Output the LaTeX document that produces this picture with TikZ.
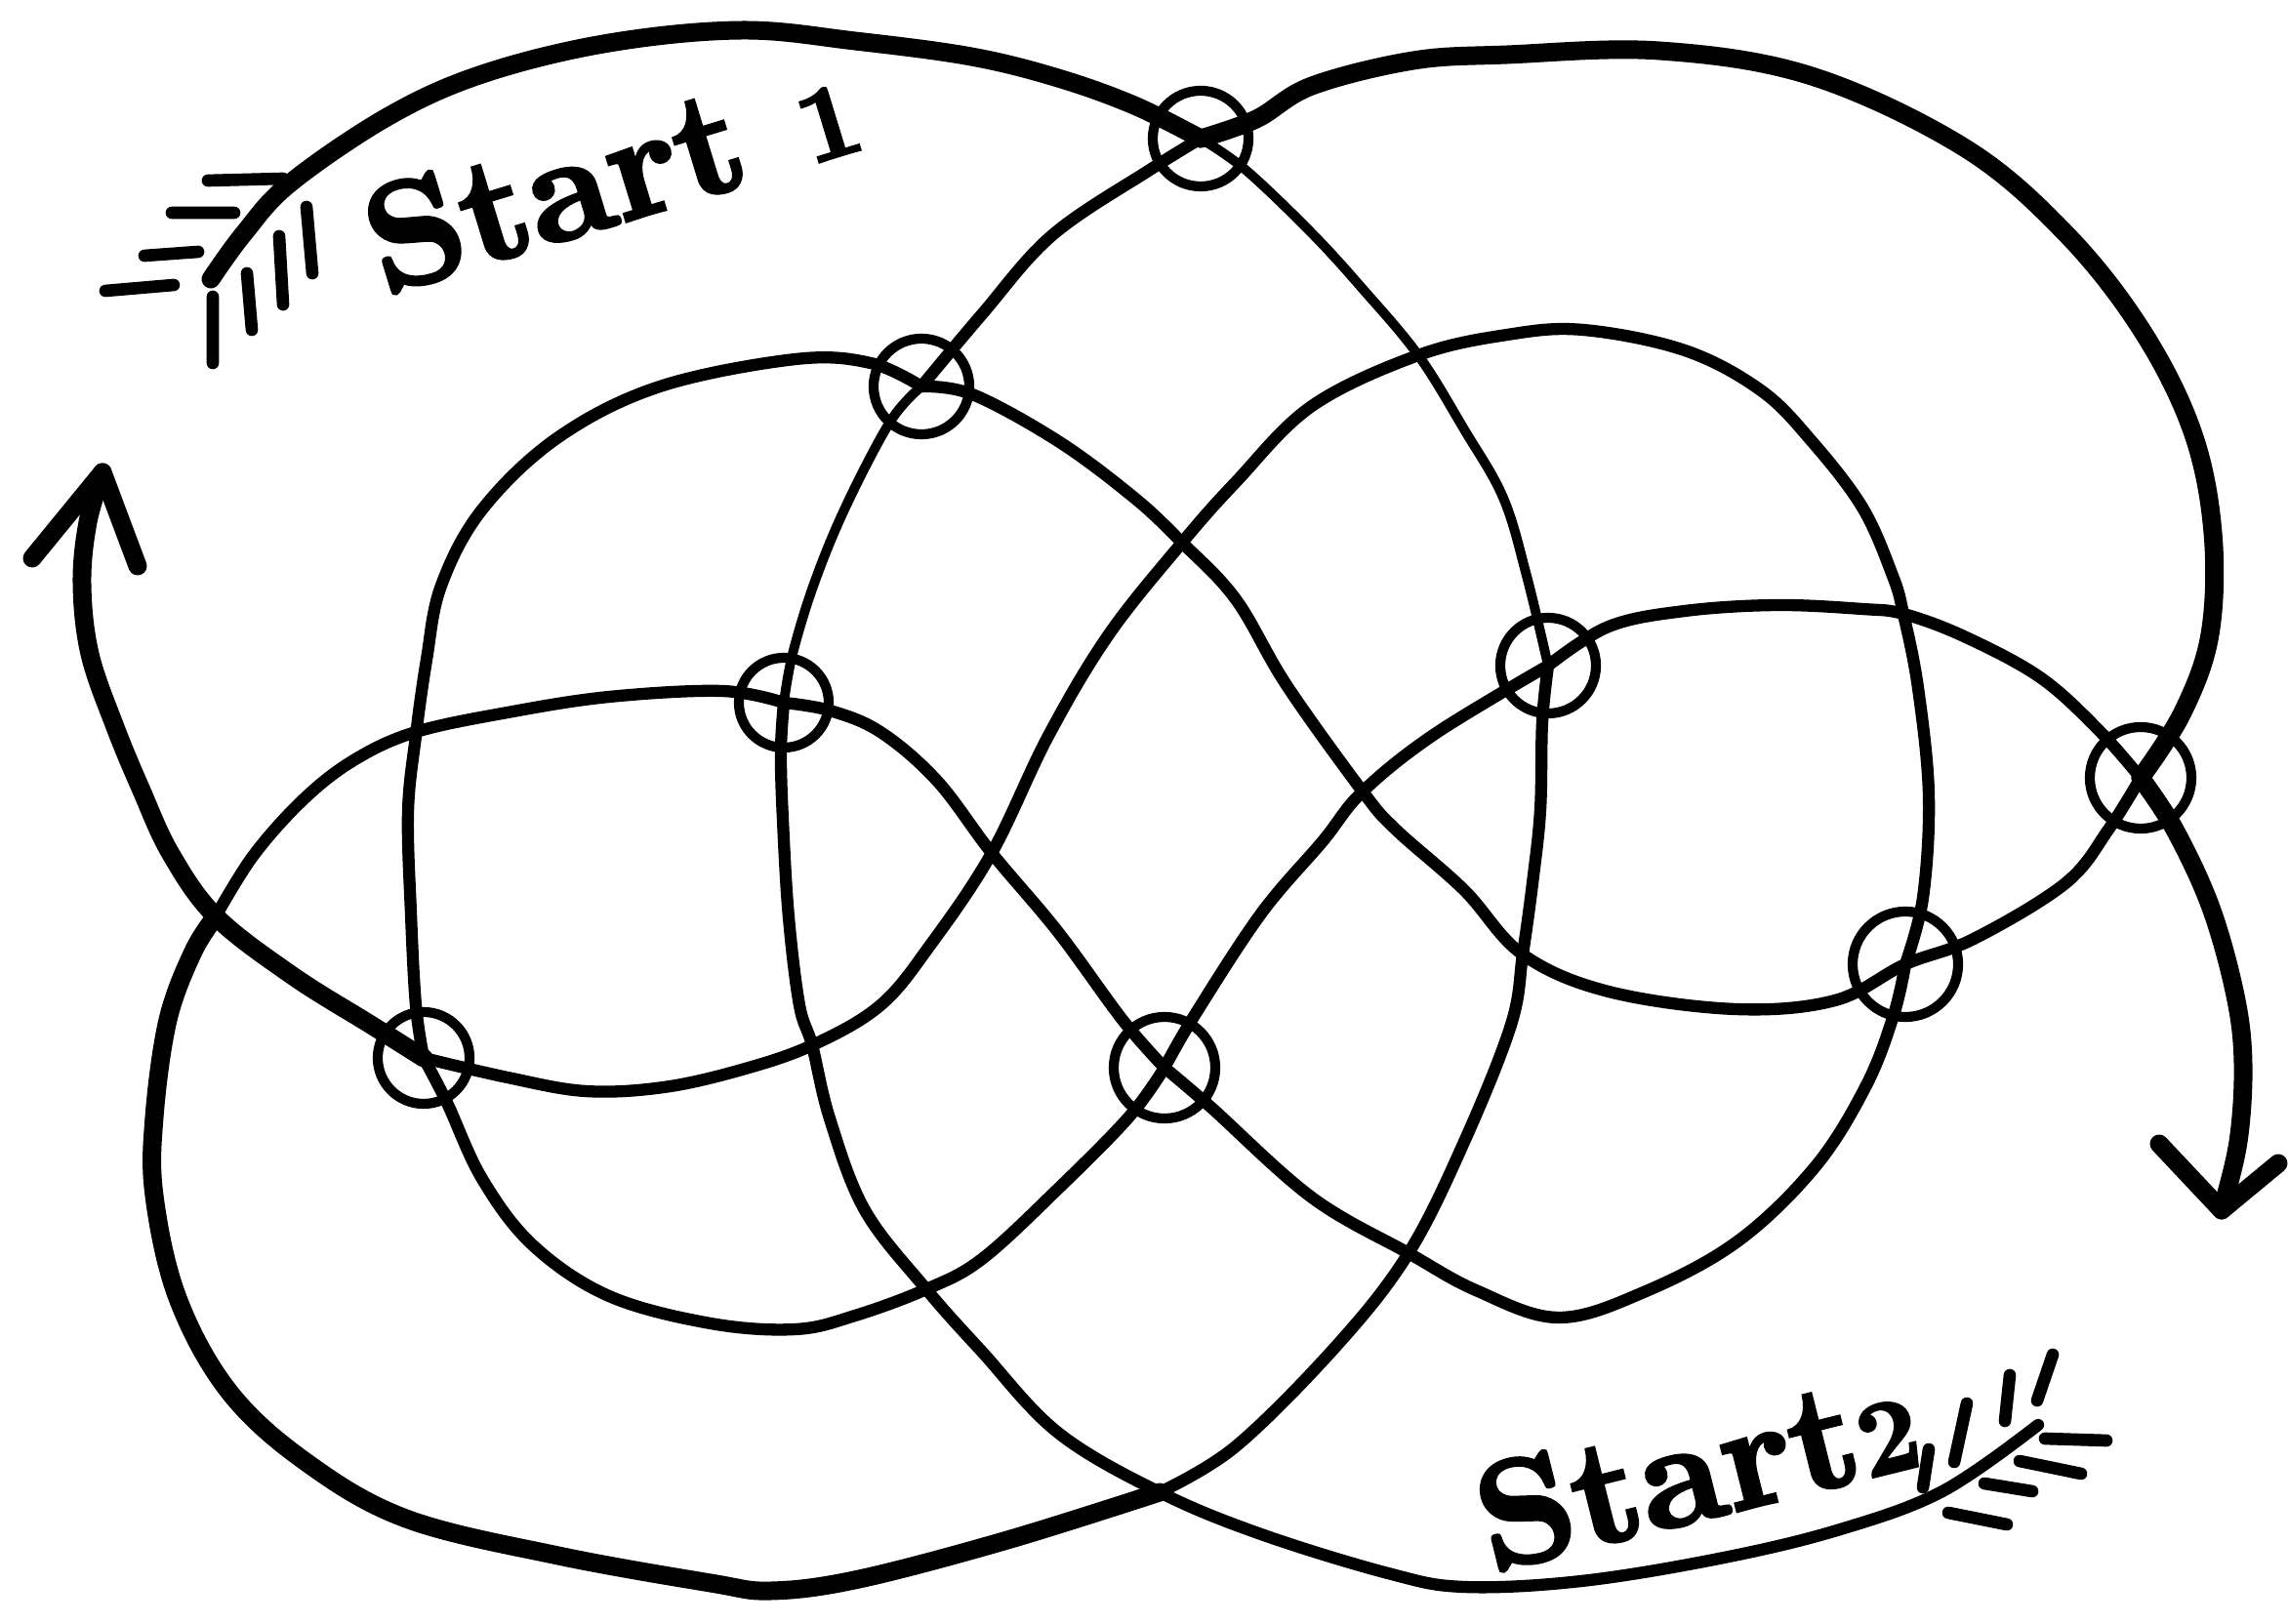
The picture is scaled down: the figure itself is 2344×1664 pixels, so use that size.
\documentclass[tikz,border=0pt]{standalone}
\usepackage{fontspec}
\usepackage{tikz}
\newfontfamily\startfont[Extension=.otf, FakeBold=2.5]{lmroman10-bold}
\newcommand\smalldigit[1]{{\fontsize{31}{31}\selectfont #1}}

\tikzset{
  cord/.style={line width=3.5pt, line cap=round, line join=round},
  thickcord/.style={cord, line width=5.4pt},
  thincord/.style={cord, line width=2.8pt},
  ring/.style={circle, draw, line width=2.9pt, minimum size=0.98cm, inner sep=0pt},
  fray/.style={line width=3.6pt, line cap=round},
  starttext/.style={font=\fontsize{44}{44}\selectfont\startfont, inner sep=0pt}
}

\begin{document}
\begin{tikzpicture}[x=0.01cm, y=-0.01cm]
    \useasboundingbox (0,0) rectangle (2344,1664);

    \node[ring] (c1) at (1230,142) {};
    \node[ring] (c2) at (944,396) {};
    \node[ring, minimum size=0.92cm] (c3) at (803,720) {};
    \node[ring] (c4) at (1586,682) {};
    \node[ring, minimum size=1.04cm] (c5) at (2193,797) {};
    \node[ring, minimum size=1.08cm] (c6) at (1952,988) {};
    \node[ring, minimum size=0.94cm] (c7) at (434,1084) {};
    \node[ring, minimum size=1.04cm] (c8) at (1193,1094) {};

    \coordinate (ua) at (1453,364);
    \coordinate (ub) at (1211,556);
    \coordinate (uc) at (1950,629);
    \coordinate (ud) at (1396,811);
    \coordinate (ue) at (221,939);
    \coordinate (uf) at (832,1071);
    \coordinate (ug) at (949,1321);
    \coordinate (uh) at (1188,1529);
    \coordinate (ui) at (1016,874);
    \coordinate (uj) at (1443,1284);
    \coordinate (uk) at (1560,978);
    \coordinate (end1) at (216,286);
    \coordinate (end2) at (2088,1460);
    \coordinate (tipL) at (105,484);
    \coordinate (tipR) at (2276,1240);

    % cord from Start 1
    \draw[thickcord] plot[smooth, tension=0.6] coordinates {(end1) (250,239) (298,187) (400,118) (497,75) (624,44) (760,31) (876,42) (995,58) (1084,80) (1162,108) (c1.center)};
    \draw[thincord] plot[smooth, tension=0.6] coordinates {(c1.center) (1276,174) (1344,239) (1396,296) (ua) (1500,440) (1540,510) (1564,590) (c4.center)};
    \draw[cord] plot[smooth, tension=0.6] coordinates {(c4.center) (1580,740) (1578,830) (1570,905) (uk) (1548,1050) (1500,1170) (uj) (1370,1378) (1266,1482) (uh)};
    \draw[thickcord] plot[smooth, tension=0.6] coordinates {(uh) (1032,1578) (880,1618) (790,1630) (728,1622) (572,1594) (416,1556) (312,1497) (234,1425) (182,1330) (158,1225) (158,1145) (172,1045) (198,975) (ue)};
    \draw[cord] plot[smooth, tension=0.6] coordinates {(ue) (260,876) (312,818) (364,778) (426,750) (520,730) (624,714) (740,708) (c3.center)};
    \draw[cord] plot[smooth, tension=0.6] coordinates {(c3.center) (850,728) (902,750) (960,800) (ui) (1084,955) (1150,1045) (c8.center)};
    \draw[cord] plot[smooth, tension=0.6] coordinates {(c8.center) (1240,1134) (1344,1227) (uj) (1512,1322) (1596,1350) (1684,1324) (1780,1272) (1860,1195) (1912,1112) (1940,1040) (c6.center)};
    \draw[cord] plot[smooth, tension=0.6] coordinates {(c6.center) (1970,920) (1976,815) (1965,705) (uc) (1939,590) (1908,520) (1856,452) (1804,400) (1726,359) (1622,338) (1544,343) (ua) (1344,416) (1266,494) (ub) (1136,650) (1074,754) (ui) (954,967) (902,1030) (uf) (760,1096) (680,1114) (600,1118) (520,1104) (c7.center)};
    \draw[thickcord] plot[smooth, tension=0.6] coordinates {(c7.center) (380,1050) (300,1000) (ue) (175,875) (145,810) (118,745) (92,670) (84,598) (90,535) (tipL)};
    \draw[thickcord] (33,572) -- (tipL) -- (141,580);

    % cord from Start2
    \draw[cord] plot[smooth, tension=0.6] coordinates {(end2) (1990,1528) (1882,1568) (1761,1597) (1620,1620) (1500,1626) (1422,1612) (1292,1572) (uh) (1084,1468) (1006,1385) (ug) (886,1240) (850,1146) (uf) (819,1030) (808,940) (802,840) (800,770) (c3.center)};
    \draw[thincord] plot[smooth, tension=0.6] coordinates {(c3.center) (812,670) (834,598) (866,520) (912,432) (c2.center)};
    \draw[cord] plot[smooth, tension=0.6] coordinates {(c2.center) (1006,322) (1078,241) (1178,174) (c1.center)};
    \draw[thickcord] plot[smooth, tension=0.6] coordinates {(c1.center) (1287,122) (1344,88) (1448,62) (1544,56) (1700,52) (1856,78) (2012,151) (2116,239) (2194,338) (2246,442) (2267,546) (2264,650) (2236,730) (c5.center)};
    \draw[cord] plot[smooth, tension=0.6] coordinates {(c5.center) (2160,850) (2116,905) (2022,962) (c6.center) (1880,1025) (1778,1034) (1648,1016) (uk) (1500,912) (1430,850) (ud) (1318,702) (1266,614) (ub) (1162,510) (1084,452) (996,404) (c2.center)};
    \draw[cord] plot[smooth, tension=0.6] coordinates {(c2.center) (892,372) (815,368) (676,396) (572,448) (494,522) (452,600) (437,676) (426,754) (418,832) (421,936) (426,1030) (c7.center)};
    \draw[cord] plot[smooth, tension=0.6] coordinates {(c7.center) (458,1130) (494,1208) (546,1276) (624,1328) (728,1356) (815,1362) (876,1348) (ug) (1006,1290) (1084,1218) (1157,1144) (c8.center)};
    \draw[cord] plot[smooth, tension=0.6] coordinates {(c8.center) (1224,1040) (1292,936) (1355,862) (ud) (1470,752) (c4.center)};
    \draw[cord] plot[smooth, tension=0.6] coordinates {(c4.center) (1648,642) (1726,626) (1820,620) (1908,624) (uc) (2012,652) (2090,694) (2150,748) (c5.center)};
    \draw[thickcord] plot[smooth, tension=0.6] coordinates {(c5.center) (2228,850) (2265,930) (2290,1020) (2298,1090) (2293,1170) (tipR)};
    \draw[thickcord] (2212,1172) -- (tipR) -- (2334,1192);

    % frayed ends
    \draw[fray] (108,298) -- (178,292) (148,262) -- (203,258) (176,218) -- (240,218) (213,185) -- (290,183);
    \draw[fray] (218,304) -- (218,372) (253,280) -- (258,338) (286,242) -- (290,312) (314,212) -- (320,280);
    \draw[fray] (1970,1524) -- (1976,1485) (2002,1498) -- (2015,1438) (2054,1456) -- (2059,1409) (2087,1435) -- (2103,1388);
    \draw[fray] (1996,1550) -- (2056,1562) (2033,1520) -- (2082,1528) (2069,1497) -- (2132,1510) (2095,1474) -- (2158,1476);

    \node[starttext, rotate=17] (start1) at (626,176) {Start \smalldigit{1}};
    \node[starttext, rotate=14] (start2) at (1738,1504) {Start\smalldigit{2}};
\end{tikzpicture}
\end{document}
